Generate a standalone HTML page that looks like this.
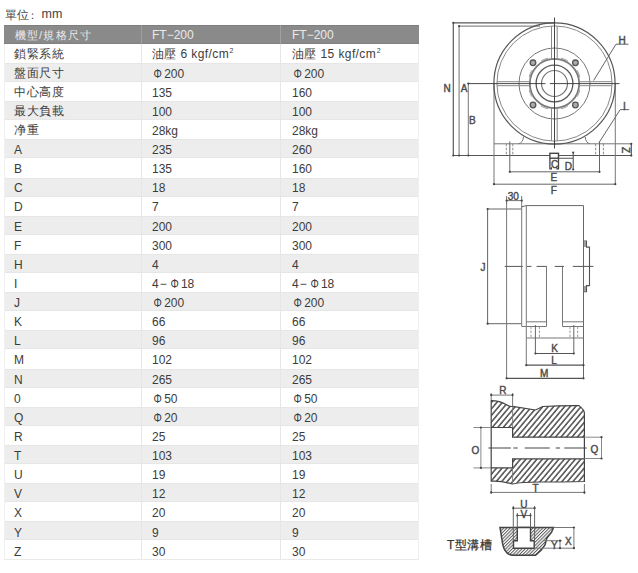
<!DOCTYPE html>
<html><head><meta charset="utf-8"><style>
html,body{margin:0;padding:0;background:#fff;width:638px;height:573px;overflow:hidden;position:relative}
body{font-family:"Liberation Sans",sans-serif;color:#3a3a3a}
.unit{position:absolute;left:5px;top:6px;font-size:12.5px;line-height:16px;color:#444}
.hdr{position:absolute;left:4px;width:415px;background:#8a8a8a;box-shadow:inset 0 1px 0 #7e7e7e, inset 0 -1px 0 #808080}
.row{position:absolute;left:4px;width:415px}
.row.g{background:#ededed;box-shadow:inset 0 1px 0 #e6e6e6, inset 0 -1px 0 #e6e6e6}
.row.w{background:#fff}
.vl{position:absolute;width:1px}
.hv{background:#a0a0a0}
.bv{background:#e6e6e6}
.bv2{background:#f0f0f0}
.hl{position:absolute;height:1px;background:#eaeaea}
.t{position:absolute;font-size:12px;white-space:nowrap}
.t.h{color:#eaeaea}
.t.c{color:#3c3c3c}
sup{font-size:7px;vertical-align:5px;line-height:0;margin-left:0.5px}
.phi{display:inline-block;transform:scaleX(0.87);margin-left:1px;margin-right:1.6px}
.ls{letter-spacing:0.4px}
.cjk{font-size:11.5px;letter-spacing:0.6px}
.cjkh{font-size:11px;letter-spacing:1.3px}
.dsh{margin:0 2px 0 1px}
svg{position:absolute;left:0;top:0}
</style></head><body>
<div class="unit" style="font-size:11.5px;left:5px;top:7px">單位</div><div class="unit" style="font-size:11px;left:27px;top:7px">：</div><div class="unit" style="left:41.5px;top:6px">mm</div>
<div class="hdr" style="top:25.2px;height:18.7px"></div>
<div class="vl hv" style="left:140.5px;top:25.2px;height:18.7px"></div>
<div class="vl hv" style="left:279.5px;top:25.2px;height:18.7px"></div>
<div class="t h" style="left:14.5px;top:26.00px;height:18.7px;line-height:18.7px"><span class="cjkh">機型/規格尺寸</span></div>
<div class="t h" style="left:152px;top:26.00px;height:18.7px;line-height:18.7px">FT−200</div>
<div class="t h" style="left:292px;top:26.00px;height:18.7px;line-height:18.7px">FT−200</div>
<div class="row w" style="top:43.90px;height:19.10px"></div>
<div class="t c" style="left:14px;top:44.90px;height:19.1px;line-height:19.1px"><span class="cjk">鎖緊系統</span></div>
<div class="t c" style="left:152px;top:45.40px;height:19.1px;line-height:19.1px"><span class="ls">油壓 6 kgf/cm</span><sup>2</sup></div>
<div class="t c" style="left:292px;top:45.40px;height:19.1px;line-height:19.1px"><span class="ls">油壓 15 kgf/cm</span><sup>2</sup></div>
<div class="row g" style="top:63.00px;height:19.10px"></div>
<div class="t c" style="left:14px;top:64.00px;height:19.1px;line-height:19.1px"><span class="cjk">盤面尺寸</span></div>
<div class="t c" style="left:152px;top:64.53px;height:19.1px;line-height:19.1px"><span class="phi">Φ</span>200</div>
<div class="t c" style="left:292px;top:64.53px;height:19.1px;line-height:19.1px"><span class="phi">Φ</span>200</div>
<div class="row w" style="top:82.10px;height:19.10px"></div>
<div class="t c" style="left:14px;top:83.10px;height:19.1px;line-height:19.1px"><span class="cjk">中心高度</span></div>
<div class="t c" style="left:152px;top:83.65px;height:19.1px;line-height:19.1px">135</div>
<div class="t c" style="left:292px;top:83.65px;height:19.1px;line-height:19.1px">160</div>
<div class="row g" style="top:101.20px;height:19.10px"></div>
<div class="t c" style="left:14px;top:102.20px;height:19.1px;line-height:19.1px"><span class="cjk">最大負載</span></div>
<div class="t c" style="left:152px;top:102.78px;height:19.1px;line-height:19.1px">100</div>
<div class="t c" style="left:292px;top:102.78px;height:19.1px;line-height:19.1px">100</div>
<div class="row w" style="top:120.30px;height:19.10px"></div>
<div class="t c" style="left:14px;top:121.30px;height:19.1px;line-height:19.1px"><span class="cjk">净重</span></div>
<div class="t c" style="left:152px;top:121.91px;height:19.1px;line-height:19.1px">28kg</div>
<div class="t c" style="left:292px;top:121.91px;height:19.1px;line-height:19.1px">28kg</div>
<div class="row g" style="top:139.40px;height:19.10px"></div>
<div class="t c" style="left:14px;top:141.03px;height:19.1px;line-height:19.1px">A</div>
<div class="t c" style="left:152px;top:141.03px;height:19.1px;line-height:19.1px">235</div>
<div class="t c" style="left:292px;top:141.03px;height:19.1px;line-height:19.1px">260</div>
<div class="row w" style="top:158.50px;height:19.10px"></div>
<div class="t c" style="left:14px;top:160.16px;height:19.1px;line-height:19.1px">B</div>
<div class="t c" style="left:152px;top:160.16px;height:19.1px;line-height:19.1px">135</div>
<div class="t c" style="left:292px;top:160.16px;height:19.1px;line-height:19.1px">160</div>
<div class="row g" style="top:177.60px;height:19.10px"></div>
<div class="t c" style="left:14px;top:179.29px;height:19.1px;line-height:19.1px">C</div>
<div class="t c" style="left:152px;top:179.29px;height:19.1px;line-height:19.1px">18</div>
<div class="t c" style="left:292px;top:179.29px;height:19.1px;line-height:19.1px">18</div>
<div class="row w" style="top:196.70px;height:19.10px"></div>
<div class="t c" style="left:14px;top:198.42px;height:19.1px;line-height:19.1px">D</div>
<div class="t c" style="left:152px;top:198.42px;height:19.1px;line-height:19.1px">7</div>
<div class="t c" style="left:292px;top:198.42px;height:19.1px;line-height:19.1px">7</div>
<div class="row g" style="top:215.80px;height:19.10px"></div>
<div class="t c" style="left:14px;top:217.54px;height:19.1px;line-height:19.1px">E</div>
<div class="t c" style="left:152px;top:217.54px;height:19.1px;line-height:19.1px">200</div>
<div class="t c" style="left:292px;top:217.54px;height:19.1px;line-height:19.1px">200</div>
<div class="row w" style="top:234.90px;height:19.10px"></div>
<div class="t c" style="left:14px;top:236.67px;height:19.1px;line-height:19.1px">F</div>
<div class="t c" style="left:152px;top:236.67px;height:19.1px;line-height:19.1px">300</div>
<div class="t c" style="left:292px;top:236.67px;height:19.1px;line-height:19.1px">300</div>
<div class="row g" style="top:254.00px;height:19.10px"></div>
<div class="t c" style="left:14px;top:255.80px;height:19.1px;line-height:19.1px">H</div>
<div class="t c" style="left:152px;top:255.80px;height:19.1px;line-height:19.1px">4</div>
<div class="t c" style="left:292px;top:255.80px;height:19.1px;line-height:19.1px">4</div>
<div class="row w" style="top:273.10px;height:19.10px"></div>
<div class="t c" style="left:14px;top:274.92px;height:19.1px;line-height:19.1px">I</div>
<div class="t c" style="left:152px;top:274.92px;height:19.1px;line-height:19.1px">4<span class="dsh">−</span><span class="phi">Φ</span>18</div>
<div class="t c" style="left:292px;top:274.92px;height:19.1px;line-height:19.1px">4<span class="dsh">−</span><span class="phi">Φ</span>18</div>
<div class="row g" style="top:292.20px;height:19.10px"></div>
<div class="t c" style="left:14px;top:294.05px;height:19.1px;line-height:19.1px">J</div>
<div class="t c" style="left:152px;top:294.05px;height:19.1px;line-height:19.1px"><span class="phi">Φ</span>200</div>
<div class="t c" style="left:292px;top:294.05px;height:19.1px;line-height:19.1px"><span class="phi">Φ</span>200</div>
<div class="row w" style="top:311.30px;height:19.10px"></div>
<div class="t c" style="left:14px;top:313.18px;height:19.1px;line-height:19.1px">K</div>
<div class="t c" style="left:152px;top:313.18px;height:19.1px;line-height:19.1px">66</div>
<div class="t c" style="left:292px;top:313.18px;height:19.1px;line-height:19.1px">66</div>
<div class="row g" style="top:330.40px;height:19.10px"></div>
<div class="t c" style="left:14px;top:332.30px;height:19.1px;line-height:19.1px">L</div>
<div class="t c" style="left:152px;top:332.30px;height:19.1px;line-height:19.1px">96</div>
<div class="t c" style="left:292px;top:332.30px;height:19.1px;line-height:19.1px">96</div>
<div class="row w" style="top:349.50px;height:19.10px"></div>
<div class="t c" style="left:14px;top:351.43px;height:19.1px;line-height:19.1px">M</div>
<div class="t c" style="left:152px;top:351.43px;height:19.1px;line-height:19.1px">102</div>
<div class="t c" style="left:292px;top:351.43px;height:19.1px;line-height:19.1px">102</div>
<div class="row g" style="top:368.60px;height:19.10px"></div>
<div class="t c" style="left:14px;top:370.56px;height:19.1px;line-height:19.1px">N</div>
<div class="t c" style="left:152px;top:370.56px;height:19.1px;line-height:19.1px">265</div>
<div class="t c" style="left:292px;top:370.56px;height:19.1px;line-height:19.1px">265</div>
<div class="row w" style="top:387.70px;height:19.10px"></div>
<div class="t c" style="left:14px;top:389.68px;height:19.1px;line-height:19.1px">0</div>
<div class="t c" style="left:152px;top:389.68px;height:19.1px;line-height:19.1px"><span class="phi">Φ</span>50</div>
<div class="t c" style="left:292px;top:389.68px;height:19.1px;line-height:19.1px"><span class="phi">Φ</span>50</div>
<div class="row g" style="top:406.80px;height:19.10px"></div>
<div class="t c" style="left:14px;top:408.81px;height:19.1px;line-height:19.1px">Q</div>
<div class="t c" style="left:152px;top:408.81px;height:19.1px;line-height:19.1px"><span class="phi">Φ</span>20</div>
<div class="t c" style="left:292px;top:408.81px;height:19.1px;line-height:19.1px"><span class="phi">Φ</span>20</div>
<div class="row w" style="top:425.90px;height:19.10px"></div>
<div class="t c" style="left:14px;top:427.94px;height:19.1px;line-height:19.1px">R</div>
<div class="t c" style="left:152px;top:427.94px;height:19.1px;line-height:19.1px">25</div>
<div class="t c" style="left:292px;top:427.94px;height:19.1px;line-height:19.1px">25</div>
<div class="row g" style="top:445.00px;height:19.10px"></div>
<div class="t c" style="left:14px;top:447.07px;height:19.1px;line-height:19.1px">T</div>
<div class="t c" style="left:152px;top:447.07px;height:19.1px;line-height:19.1px">103</div>
<div class="t c" style="left:292px;top:447.07px;height:19.1px;line-height:19.1px">103</div>
<div class="row w" style="top:464.10px;height:19.10px"></div>
<div class="t c" style="left:14px;top:466.19px;height:19.1px;line-height:19.1px">U</div>
<div class="t c" style="left:152px;top:466.19px;height:19.1px;line-height:19.1px">19</div>
<div class="t c" style="left:292px;top:466.19px;height:19.1px;line-height:19.1px">19</div>
<div class="row g" style="top:483.20px;height:19.10px"></div>
<div class="t c" style="left:14px;top:485.32px;height:19.1px;line-height:19.1px">V</div>
<div class="t c" style="left:152px;top:485.32px;height:19.1px;line-height:19.1px">12</div>
<div class="t c" style="left:292px;top:485.32px;height:19.1px;line-height:19.1px">12</div>
<div class="row w" style="top:502.30px;height:19.10px"></div>
<div class="t c" style="left:14px;top:504.45px;height:19.1px;line-height:19.1px">X</div>
<div class="t c" style="left:152px;top:504.45px;height:19.1px;line-height:19.1px">20</div>
<div class="t c" style="left:292px;top:504.45px;height:19.1px;line-height:19.1px">20</div>
<div class="row g" style="top:521.40px;height:19.10px"></div>
<div class="t c" style="left:14px;top:523.57px;height:19.1px;line-height:19.1px">Y</div>
<div class="t c" style="left:152px;top:523.57px;height:19.1px;line-height:19.1px">9</div>
<div class="t c" style="left:292px;top:523.57px;height:19.1px;line-height:19.1px">9</div>
<div class="row w" style="top:540.50px;height:19.10px"></div>
<div class="t c" style="left:14px;top:542.70px;height:19.1px;line-height:19.1px">Z</div>
<div class="t c" style="left:152px;top:542.70px;height:19.1px;line-height:19.1px">30</div>
<div class="t c" style="left:292px;top:542.70px;height:19.1px;line-height:19.1px">30</div>
<div class="vl bv" style="left:140.5px;top:43.9px;height:515.7px"></div>
<div class="vl bv" style="left:279.5px;top:43.9px;height:515.7px"></div>
<div class="vl bv2" style="left:4px;top:43.9px;height:515.7px"></div>
<div class="vl bv2" style="left:418px;top:43.9px;height:515.7px"></div>
<div class="hl" style="left:4px;top:559.1px;width:415px"></div>
<svg width="638" height="573" viewBox="0 0 638 573" style="position:absolute;left:0;top:0">
<defs>
<pattern id="hatch" patternUnits="userSpaceOnUse" width="4.2" height="4.2" patternTransform="rotate(40)">
<rect width="4.2" height="4.2" fill="#fff"/>
<line x1="0.9" y1="0" x2="0.9" y2="4.2" stroke="#555" stroke-width="1.6"/>
</pattern>
<pattern id="hatch2" patternUnits="userSpaceOnUse" width="2.3" height="2.3" patternTransform="rotate(45)">
<rect width="2.3" height="2.3" fill="#fff"/>
<line x1="0.5" y1="0" x2="0.5" y2="2.3" stroke="#5a5a5a" stroke-width="1"/>
</pattern>
</defs>
<g fill="none" stroke="#666" stroke-width="1">
<!-- ===== FRONT VIEW ===== -->
<!-- N / A / B dims -->
<path d="M453.3 22.8V155.5 M453.3 22.8H554" stroke="#5a5a5a" stroke-width="1.2"/>
<path d="M459.1 26.1V155.5 M459.1 26.1H540" stroke="#8a8a8a" stroke-width="1.2"/>
<path d="M468.3 83.5V155.5" stroke="#777"/>
<!-- base line -->
<path d="M453 155.5H631.3" stroke="#555"/>
<path d="M494 143.8H631.3" stroke="#777"/>
<!-- tangent verticals -->
<path d="M494 83.5V184.6 M615.3 83.5V184.6" stroke="#777"/>
<!-- circles -->
<circle cx="554.5" cy="83.5" r="60.6" stroke="#555" stroke-width="1.2"/>
<circle cx="554.5" cy="83.5" r="57.6" stroke="#888" stroke-width="1"/>
<circle cx="554.5" cy="83.5" r="35.5" stroke="#777"/>
<circle cx="554.5" cy="83.5" r="24.7" stroke="#7a7a7a" stroke-width="1.8"/>
<circle cx="554.5" cy="83.5" r="18.4" stroke="#5a5a5a" stroke-width="1.3"/>
<circle cx="554.5" cy="83.5" r="13" stroke="#777" stroke-width="1.2"/>
<path d="M578.3 90.1L579.7 90.5 M576.0 95.7L577.3 96.4 M579.7 90.5A26.2 26.2 0 0 1 577.3 96.4 M566.7 105.0L567.4 106.3 M561.1 107.3L561.5 108.7 M567.4 106.3A26.2 26.2 0 0 1 561.5 108.7 M547.9 107.3L547.5 108.7 M542.3 105.0L541.6 106.3 M547.5 108.7A26.2 26.2 0 0 1 541.6 106.3 M533.0 95.7L531.7 96.4 M530.7 90.1L529.3 90.5 M531.7 96.4A26.2 26.2 0 0 1 529.3 90.5 M530.7 76.9L529.3 76.5 M533.0 71.3L531.7 70.6 M529.3 76.5A26.2 26.2 0 0 1 531.7 70.6 M542.3 62.0L541.6 60.7 M547.9 59.7L547.5 58.3 M541.6 60.7A26.2 26.2 0 0 1 547.5 58.3 M561.1 59.7L561.5 58.3 M566.7 62.0L567.4 60.7 M561.5 58.3A26.2 26.2 0 0 1 567.4 60.7 M576.0 71.3L577.3 70.6 M578.3 76.9L579.7 76.5 M577.3 70.6A26.2 26.2 0 0 1 579.7 76.5" stroke="#999" stroke-width="1"/>
<!-- T-slot pairs -->
<path d="M551.5 26V59.5 M557.2 26V59.5 M551.5 107.5V141 M557.2 107.5V141" stroke="#888"/>
<path d="M497 81.7H530 M497 85.7H530 M579 81.7H612 M579 85.7H612" stroke="#888"/>
<!-- bolt holes -->
<g stroke="#555" stroke-width="1.3" fill="#aaa">
<circle cx="533" cy="62.8" r="2.8"/><circle cx="575.4" cy="62.8" r="2.8"/>
<circle cx="533" cy="105" r="2.8"/><circle cx="575.4" cy="105" r="2.8"/>
</g>
<!-- center lines -->
<path d="M554.5 17.5V148.5 M468 83.6H545.4 M549.9 83.6H619.5" stroke="#333" stroke-width="0.9"/>
<!-- foot fillets -->
<path d="M523.5 136.5Q523 143 518.5 143.8 M585.2 137Q585.7 143 590 143.8" stroke="#777"/>
<!-- bolt slot hidden lines -->
<path d="M506.3 143.8V155.5 M512.8 143.8V155.5 M595.7 143.8V155.5 M603.4 143.8V155.5" stroke="#888" stroke-dasharray="2.5 1.5"/>
<path d="M509.8 141.4V172.2 M599.5 141.4V172.2" stroke="#666"/>
<!-- E / F dims -->
<path d="M509.8 171.8H599.5" stroke="#666"/>
<path d="M494 184.2H615.3" stroke="#666"/>
<!-- key + C + D -->
<rect x="549.9" y="153.3" width="8.6" height="4.9" stroke="#444" stroke-width="1.4" fill="#fff"/>
<path d="M549.9 158.2V169.2 M558.5 158.2V169.2" stroke="#444" stroke-width="1.3"/><path d="M549.5 169.5l2.5-3v3z M558.9 169.5l-2.5-3v3z" fill="#444" stroke="none"/>
<path d="M558.5 158.2H573.2 M573.2 152.5V169.5" stroke="#555" stroke-width="1.1"/>
<!-- H leader -->
<path d="M593.6 80.5L616 44.2H628.5" stroke="#666"/>
<!-- I leader -->
<path d="M599.2 142.4L620.2 109.6H629.2" stroke="#666"/>
<!-- Z dim -->
<path d="M631.3 143.8V155.6" stroke="#555" stroke-width="1.2"/>

<!-- ===== SIDE VIEW ===== -->
<path d="M487.6 209V323.7 M487.6 209H521.7 M487.6 323.7H521.9" stroke="#666"/>
<path d="M506.6 200V378.2 M521.7 209V326.5" stroke="#777"/>
<path d="M506.6 200.6H521.7 M506.6 196V204 M521.7 196V209" stroke="#777"/>
<path d="M521.4 206.9L526.3 205.6H583.5V378.2" stroke="#666"/><path d="M583.5 241H586.5V247.1H589.5V285.6H586.5V291.7H583.5" stroke="#555" stroke-width="1.1"/><path d="M585 241.5V247 M585 286V291.2" stroke="#888" stroke-width="1.6"/>
<path d="M526.3 205.6V365" stroke="#777"/>
<path d="M521.7 326.5H526.3" stroke="#777"/>
<!-- slot walls -->
<path d="M546.5 266.3V326.5 M562.5 266.3V326.5" stroke="#777"/>
<path d="M526.3 321.8H546.5 M562.5 321.8H583.5 M526.3 326.5H546.5 M562.5 326.5H583.5 M526.3 338H583.5" stroke="#777"/>
<!-- hidden bolt holes -->
<path d="M531 326.5V338 M539.4 326.5V338 M570 326.5V338 M577.7 326.5V338" stroke="#999" stroke-dasharray="2.5 1.5"/>
<path d="M535.4 325V353.5 M573.8 325V353.5" stroke="#666"/>
<!-- K L M -->
<path d="M535.4 353.5H573.8 M526.3 365.2H583.5 M506.6 378.3H583.5" stroke="#555" stroke-width="1.2"/>
<!-- center dash line -->
<path d="M504.7 266.4H522.8 M527 266.4H531.4 M536.6 266.4H546.5 M554.7 266.4H564 M572.8 266.4H593.4" stroke="#555"/>

<!-- ===== SECTION VIEW ===== -->
<path d="M491.2 400.7Q500 401 505 404T512.6 406.4L535.6 410L542.6 406.5Q560 405.5 579 405.6Q584.4 410 584.4 413V437.2H512.6V427.5H491.2Z" fill="url(#hatch)" stroke="#444" stroke-width="1.2"/>
<path d="M491.2 467.9H512.6V458.9H584.4V481.5Q560 482 540 482T512.6 484Q500 480.5 491.2 481.2Z" fill="url(#hatch)" stroke="#444" stroke-width="1.2"/>
<path d="M491.2 427.5V467.9 M584.4 437.2V458.9" stroke="#444" stroke-width="1.2"/><path d="M512.6 406.4V427.5 M512.6 467.9V484" stroke="#777" stroke-width="0.9"/>
<!-- R dim -->
<path d="M491.2 393V400 M512.6 393V406 M491.2 395.1H512.6" stroke="#777"/>
<!-- O dim -->
<path d="M473.5 427.5H491 M473.5 467.9H491 M480.9 427.5V467.9" stroke="#888"/>
<!-- Q dim -->
<path d="M584.4 437.2H602.2 M584.4 458.5H602.2 M601.5 437.2V458.5" stroke="#888"/>
<!-- T dim -->
<path d="M491.2 484V494 M584.4 484V494 M491.2 492.4H584.4" stroke="#777"/>
<!-- centre line -->
<path d="M488.4 448H510.9 M513.4 448H517.8 M524.7 448H549.7 M555.7 448H560 M564.3 448H586.7" stroke="#444" stroke-width="1.2"/>

<!-- ===== T-SLOT DETAIL ===== -->
<path d="M500 527.5H553.5L551.6 532.2L546.9 537.9L545 545L541.3 550.1L535.6 555.3H512.1C505 554 503 548 502 540C501 534 500.5 530 500 527.5Z" fill="url(#hatch2)" stroke="#444" stroke-width="1.5"/>
<path d="M517.3 527.5H530.5V540.7H534.2V548.2H513.5V540.7H517.3Z" fill="#fff" stroke="#444" stroke-width="1.4"/>
<path d="M513.3 506V540.7 M534.6 506V540.7" stroke="#666"/>
<path d="M517.3 513V527.5 M530.5 513V527.5" stroke="#666"/>
<path d="M513.3 508.2H534.6 M517.3 515.5H530.5" stroke="#666"/>
<path d="M553.5 527.5H575 M543 540.7H562 M534.2 548.2H575 M560 540.7V548.2 M573.9 527.5V548.2" stroke="#777"/>
</g>
<g fill="#444" stroke="none"><circle cx="453.3" cy="22.8" r="1.1"/><circle cx="459.1" cy="26.1" r="1.1"/><circle cx="468.3" cy="83.6" r="1.1"/><circle cx="453.3" cy="155.5" r="1.1"/><circle cx="459.1" cy="155.5" r="1.1"/><circle cx="468.3" cy="155.5" r="1.1"/><circle cx="494" cy="184.2" r="1.1"/><circle cx="615.3" cy="184.2" r="1.1"/><circle cx="509.8" cy="171.8" r="1.1"/><circle cx="599.5" cy="171.8" r="1.1"/><circle cx="631.3" cy="143.8" r="1.1"/><circle cx="631.3" cy="155.6" r="1.1"/><circle cx="573.2" cy="152.5" r="1.1"/><circle cx="573.2" cy="169.5" r="1.1"/><circle cx="487.6" cy="209" r="1.1"/><circle cx="487.6" cy="323.7" r="1.1"/><circle cx="506.6" cy="200.6" r="1.1"/><circle cx="521.7" cy="200.6" r="1.1"/><circle cx="535.4" cy="353.5" r="1.1"/><circle cx="573.8" cy="353.5" r="1.1"/><circle cx="526.3" cy="365.2" r="1.1"/><circle cx="583.5" cy="365.2" r="1.1"/><circle cx="506.6" cy="378.3" r="1.1"/><circle cx="583.5" cy="378.3" r="1.1"/><circle cx="491.2" cy="395.1" r="1.1"/><circle cx="512.6" cy="395.1" r="1.1"/><circle cx="480.9" cy="427.5" r="1.1"/><circle cx="480.9" cy="467.9" r="1.1"/><circle cx="601.5" cy="437.2" r="1.1"/><circle cx="601.5" cy="458.5" r="1.1"/><circle cx="491.2" cy="492.4" r="1.1"/><circle cx="584.4" cy="492.4" r="1.1"/><circle cx="513.3" cy="508.2" r="1.1"/><circle cx="534.6" cy="508.2" r="1.1"/><circle cx="517.3" cy="515.5" r="1.1"/><circle cx="530.5" cy="515.5" r="1.1"/><circle cx="560" cy="540.7" r="1.1"/><circle cx="560" cy="548.2" r="1.1"/><circle cx="573.9" cy="527.5" r="1.1"/><circle cx="573.9" cy="548.2" r="1.1"/></g>
<g font-family="Liberation Sans, sans-serif" font-size="10" fill="#4a4a4a" stroke="#4a4a4a" stroke-width="0.4" text-anchor="middle">
<text x="447.2" y="92">N</text>
<text x="464" y="92">A</text>
<text x="472.3" y="123.5">B</text>
<text x="622.2" y="44">H</text>
<text x="624.3" y="110">I</text>
<text x="554.5" y="168">C</text>
<text x="568.4" y="169.5">D</text>
<text x="553.8" y="181">E</text>
<text x="553.8" y="194">F</text>
<text transform="translate(625.7 150) rotate(90)" x="0" y="4">Z</text>
<text x="513.3" y="200">30</text>
<text x="483" y="270.5">J</text>
<text x="554.7" y="352.2">K</text>
<text x="554" y="364.3">L</text>
<text x="544.2" y="376.6">M</text>
<text x="502.8" y="393.8">R</text>
<text x="475.5" y="453.7">O</text>
<text x="594.5" y="452.8">Q</text>
<text x="535.6" y="491.5">T</text>
<text x="523.8" y="508.2">U</text>
<text x="523.8" y="518">V</text>
<text x="554.4" y="549.4">Y</text>
<text x="568.3" y="544.5">X</text>
</g>
<text x="447" y="549" font-family="Liberation Sans, sans-serif" font-size="12" fill="#333" stroke="#333" stroke-width="0.25">T<tspan font-size="11.5" letter-spacing="0.6" dx="0.5">型溝槽</tspan></text>
</svg>

</body></html>
